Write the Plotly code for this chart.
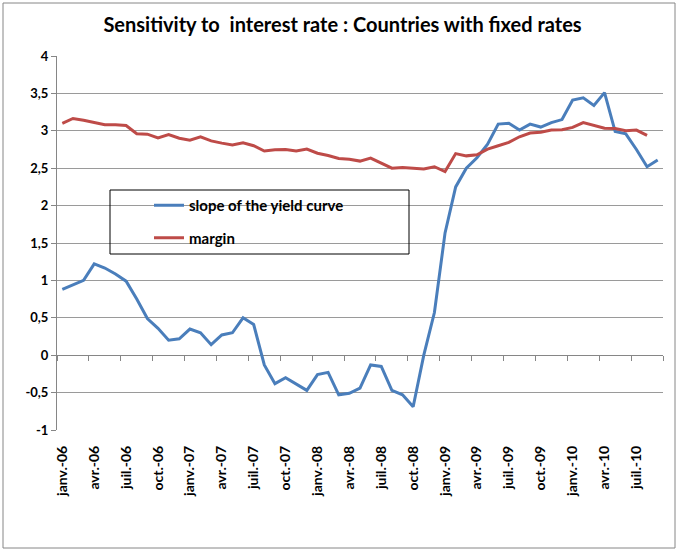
import plotly.graph_objects as go

month_abbr = ["janv.", "févr.", "mars", "avr.", "mai", "juin",
              "juil.", "août", "sept.", "oct.", "nov.", "déc."]
months = [f"{month_abbr[m]}-{y:02d}" for y in range(6, 11) for m in range(12)][:57]

slope = [0.88, 0.94, 1.00, 1.22, 1.165, 1.085, 0.99, 0.75, 0.49, 0.36,
         0.20, 0.22, 0.35, 0.30, 0.14, 0.27, 0.30, 0.50, 0.41, -0.13,
         -0.38, -0.30, -0.38, -0.47, -0.26, -0.23, -0.53, -0.51, -0.44, -0.13,
         -0.15, -0.47, -0.53, -0.69, 0.00, 0.57, 1.635, 2.25, 2.50, 2.64,
         2.82, 3.09, 3.10, 3.01, 3.09, 3.05, 3.11, 3.15, 3.41, 3.44,
         3.34, 3.51, 2.99, 2.96, 2.75, 2.52, 2.61]
margin = [3.10, 3.165, 3.14, 3.11, 3.08, 3.08, 3.07, 2.96, 2.955, 2.905,
          2.95, 2.90, 2.875, 2.92, 2.865, 2.835, 2.81, 2.84, 2.80, 2.73,
          2.745, 2.75, 2.73, 2.755, 2.70, 2.67, 2.63, 2.62, 2.595, 2.635,
          2.565, 2.50, 2.51, 2.505, 2.49, 2.52, 2.455, 2.695, 2.665, 2.68,
          2.755, 2.80, 2.845, 2.92, 2.97, 2.98, 3.01, 3.015, 3.045, 3.11,
          3.07, 3.035, 3.03, 3.00, 3.01, 2.94, None]

y_tick_vals = [-1, -0.5, 0, 0.5, 1, 1.5, 2, 2.5, 3, 3.5, 4]
y_tick_labels = ["-1", "-0,5", "0", "0,5", "1", "1,5", "2", "2,5", "3", "3,5", "4"]

title_text = "Sensitivity to  interest rate : Countries with fixed rates"
slope_name = "slope of the yield curve"
margin_name = "margin"

idx = list(range(len(months)))
label_idx = idx[::3]
label_text = months[::3]
tick_between = [i - 0.5 for i in range(0, len(months) + 1, 3)]

FONT = "Lato"
GRID = "#9a9a9a"
AXIS = "#868686"

W, H = 685, 554
L, R, T, B = 57, 663, 56, 430
pw, ph = R - L, B - T


def px_x(p):
    return (p - L) / pw


def px_y(p):
    return (B - p) / ph


fig = go.Figure()
fig.add_trace(go.Scatter(x=idx, y=slope, name=slope_name, mode="lines",
                         line=dict(color="#4a7ebb", width=3),
                         xaxis="x", legendgroup="a"))
fig.add_trace(go.Scatter(x=idx, y=margin, name=margin_name, mode="lines",
                         line=dict(color="#be4b48", width=3),
                         xaxis="x2", legendgroup="b"))

xr = [-0.5, len(months) - 0.5]
fig.update_layout(
    width=W, height=H,
    margin=dict(l=L, r=W - R, t=T, b=H - B, autoexpand=False),
    paper_bgcolor="white", plot_bgcolor="white",
    separators=", ",
    title=dict(text=title_text, x=0.5, xref="container", xanchor="center",
               y=1 - 25 / H, yref="container", yanchor="middle",
               font=dict(family=FONT, size=20, color="black", weight="bold")),
    xaxis=dict(range=xr, anchor="free", position=0.2, side="bottom",
               tickmode="array", tickvals=tick_between, ticks="outside",
               ticklen=5, tickcolor=AXIS, showticklabels=False,
               showline=True, linecolor=AXIS, linewidth=1,
               showgrid=False, zeroline=False, layer="below traces"),
    xaxis2=dict(range=xr, overlaying="x", anchor="y", side="bottom",
                tickmode="array", tickvals=label_idx, ticktext=label_text,
                tickangle=-90, ticks="", showline=False, showgrid=False,
                zeroline=False, ticklabelstandoff=12,
                tickfont=dict(family=FONT, size=14, color="black", weight="bold")),
    yaxis=dict(range=[-1, 4], tickmode="array", tickvals=y_tick_vals,
               ticktext=y_tick_labels, ticks="outside", ticklen=5,
               tickcolor=AXIS, showline=True, linecolor=AXIS, linewidth=1,
               showgrid=True, gridcolor=GRID, gridwidth=1, zeroline=False,
               tickfont=dict(family=FONT, size=13, color="black", weight="bold")),
    showlegend=True,
    legend=dict(x=px_x(149), y=px_y(189), xanchor="left", yanchor="top",
                bgcolor="rgba(0,0,0,0)", borderwidth=0,
                tracegroupgap=10, traceorder="grouped",
                font=dict(family=FONT, size=15, color="black", weight="bold")),
    shapes=[
        dict(type="rect", xref="paper", yref="paper",
             x0=px_x(110), x1=px_x(409), y0=px_y(254), y1=px_y(190),
             line=dict(color="black", width=1), fillcolor="rgba(0,0,0,0)",
             layer="above"),
        dict(type="rect", xref="paper", yref="paper",
             x0=px_x(3), x1=px_x(675), y0=px_y(548), y1=px_y(3),
             line=dict(color=AXIS, width=1), fillcolor="rgba(0,0,0,0)",
             layer="above"),
    ],
)

fig.write_html("out.html", config={"displayModeBar": False},
               post_script="document.body.style.margin='0';")
